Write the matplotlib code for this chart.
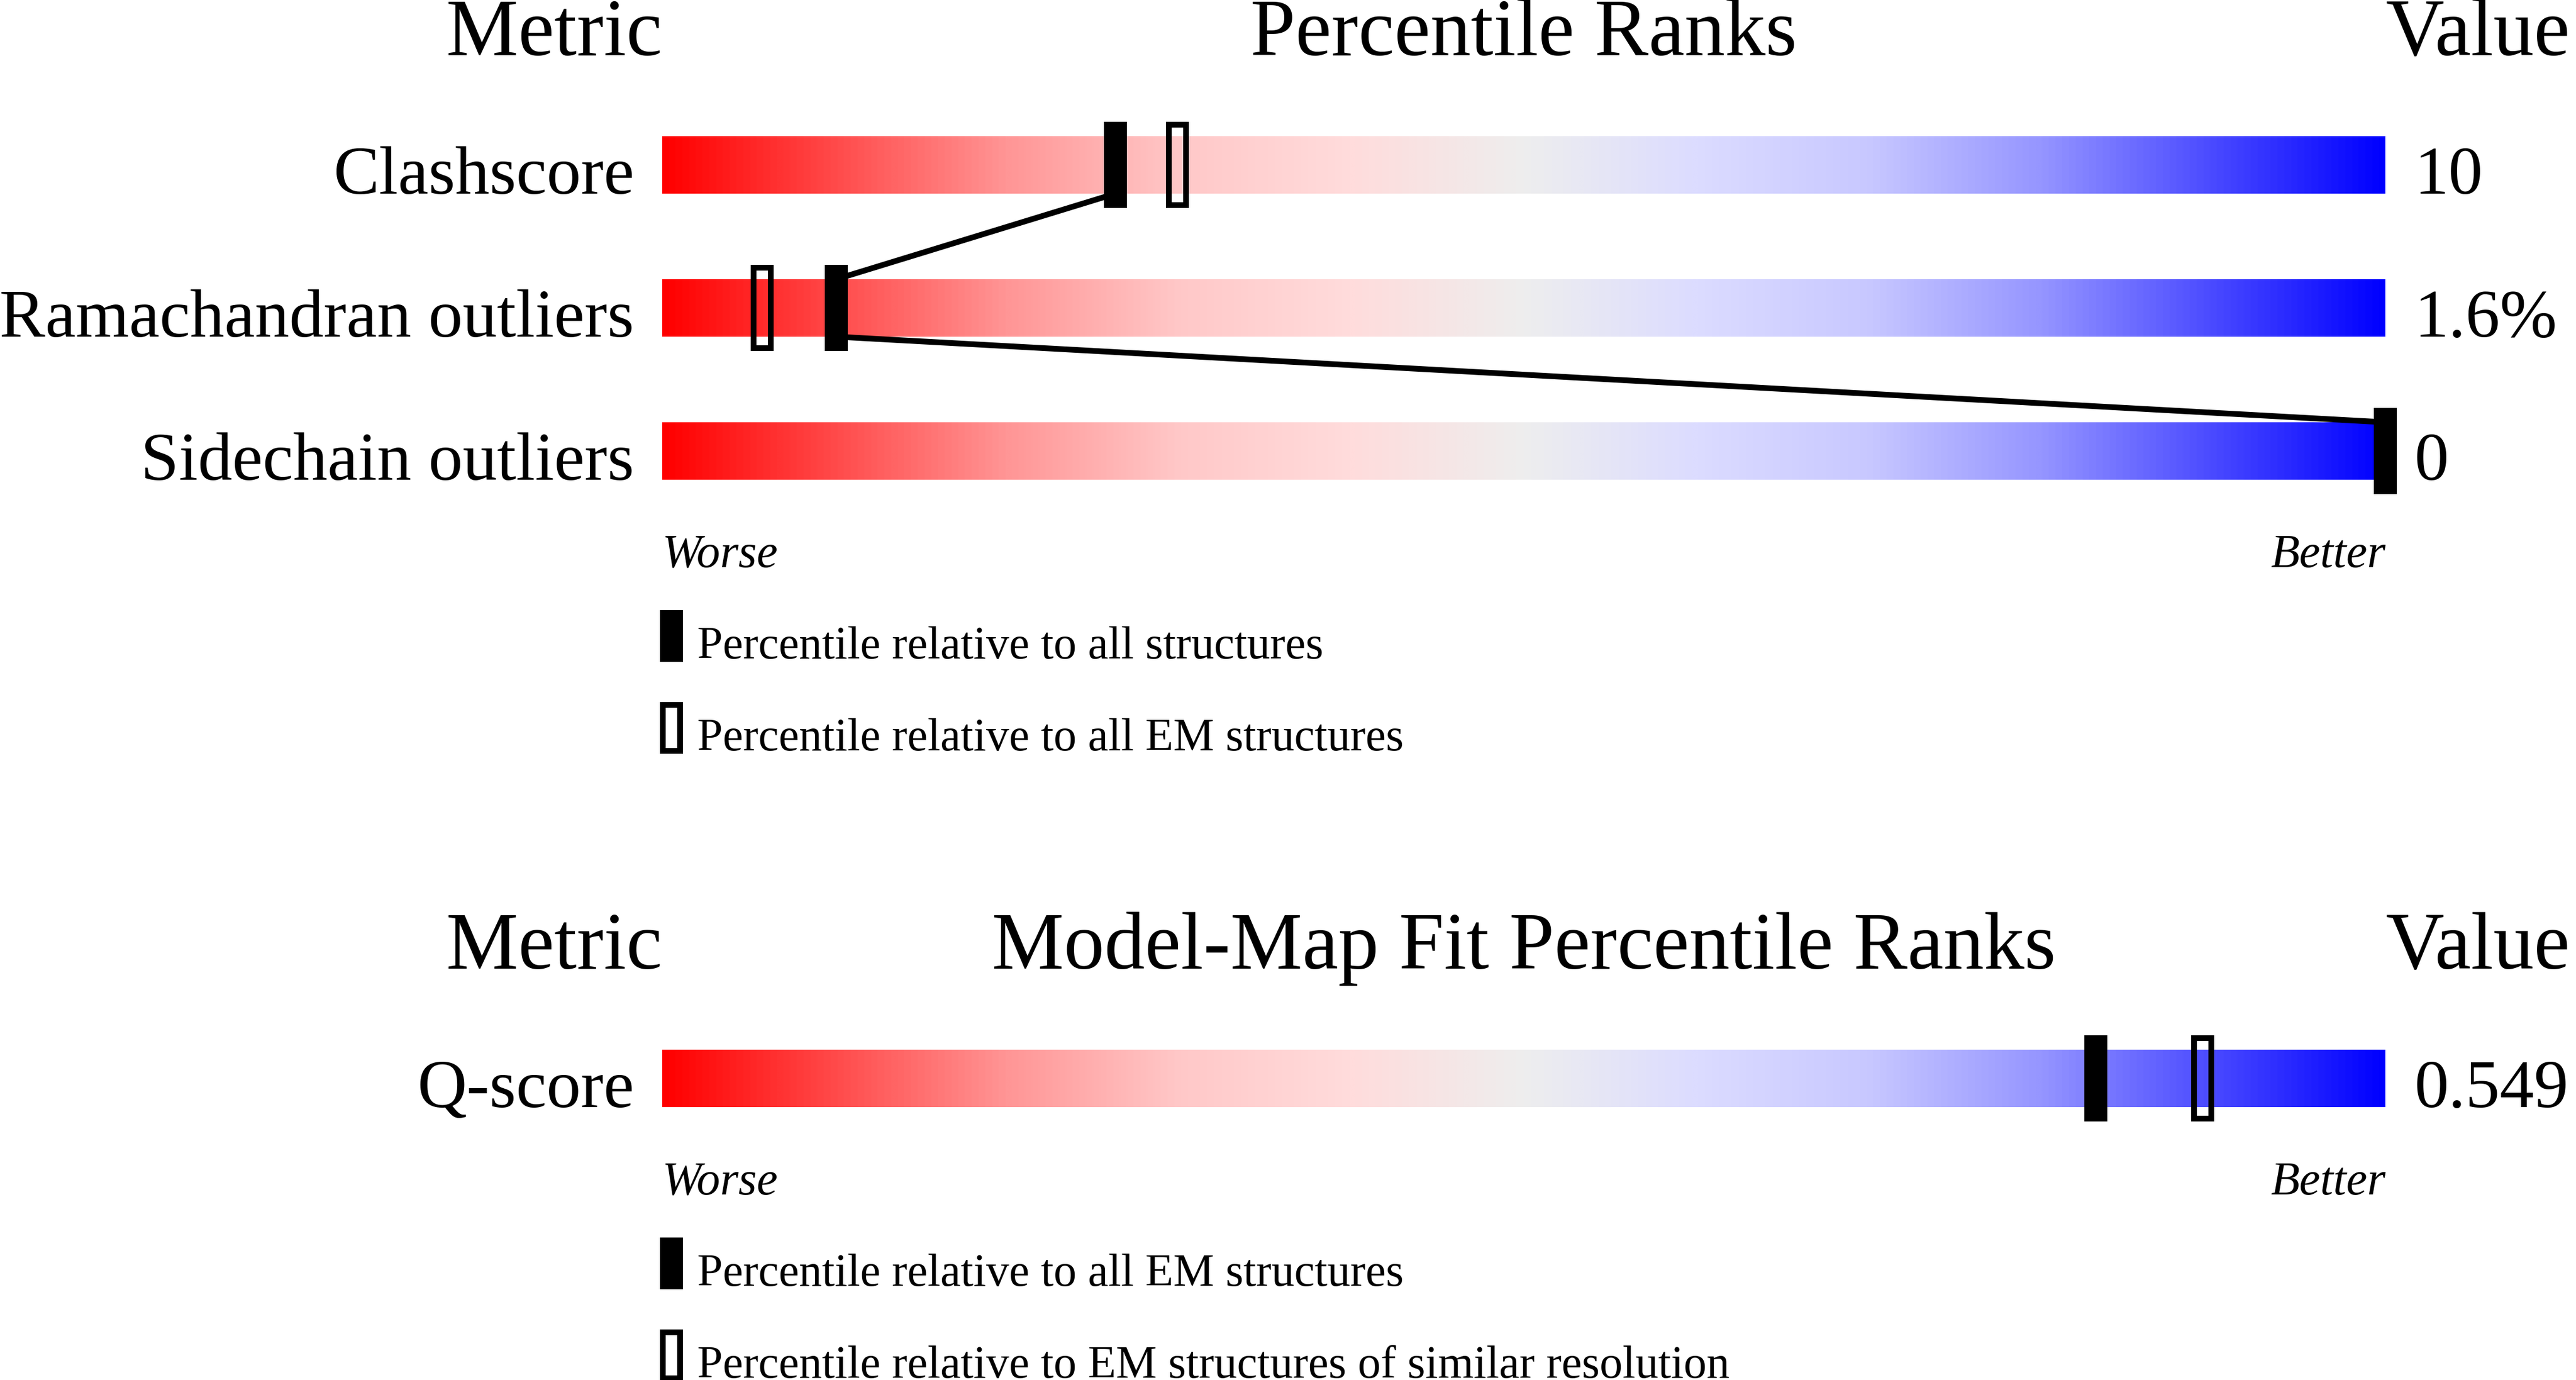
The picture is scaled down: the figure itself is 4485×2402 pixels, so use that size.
import numpy as np
import matplotlib
matplotlib.use('Agg')
import matplotlib.pyplot as plt
from matplotlib.colors import LinearSegmentedColormap
from matplotlib.patches import Rectangle

# --- data ---
geo_metrics = ['Clashscore', 'Ramachandran outliers', 'Sidechain outliers']
geo_values = ['10', '1.6%', '0']
geo_pct_all = [26.3, 10.1, 100.0]
geo_pct_em = [29.9, 5.8, 100.0]
geo_legend = ['Percentile relative to all structures',
              'Percentile relative to all EM structures']

fit_metrics = ['Q-score']
fit_values = ['0.549']
fit_pct_all = [83.2]
fit_pct_em = [89.4]
fit_legend = ['Percentile relative to all EM structures',
              'Percentile relative to EM structures of similar resolution']

W, H, DPI = 4485, 2402, 100
BAR_LEFT, PX = 1153, 30.0      # pixel of 0th percentile, pixels per percentile unit
ROW = 249                      # row pitch in pixels
BAR_H = 100
MARK_W, MARK_H = 40 / PX, 150
LW_EDGE = 10 * 72 / DPI

FONT = 'Liberation Serif'
HEAD_SIZE = 101.5
LABEL_SIZE = 86
SMALL_SIZE = 57.5
ITAL_SIZE = 59

cmap = LinearSegmentedColormap.from_list('wwpdb', [
    (0.0, (1.0, 0.0, 0.0)),
    (0.1, (1.0, 75 / 255, 75 / 255)),
    (0.2, (1.0, 150 / 255, 150 / 255)),
    (0.3, (1.0, 200 / 255, 200 / 255)),
    (0.4, (1.0, 220 / 255, 220 / 255)),
    (0.5, (238 / 255, 238 / 255, 238 / 255)),
    (0.6, (220 / 255, 220 / 255, 1.0)),
    (0.7, (200 / 255, 200 / 255, 1.0)),
    (0.8, (150 / 255, 150 / 255, 1.0)),
    (0.9, (75 / 255, 75 / 255, 1.0)),
    (1.0, (0.0, 0.0, 1.0)),
])
grad = np.linspace(0, 1, 1024).reshape(1, -1)

fig = plt.figure(figsize=(W / DPI, H / DPI), dpi=DPI)
ax = fig.add_axes([0, 0, 1, 1])
ax.set_xlim(-BAR_LEFT / PX, (W - BAR_LEFT) / PX)
ax.set_ylim(H, 0)
ax.axis('off')


def marker(x, yc, filled, h=MARK_H):
    if filled:
        r = Rectangle((x - MARK_W / 2, yc - h / 2), MARK_W, h,
                      facecolor='black', edgecolor='none', zorder=5)
    else:
        dx = 5 / PX
        r = Rectangle((x - MARK_W / 2 + dx, yc - h / 2 + 5), MARK_W - 2 * dx, h - 10,
                      fill=False, edgecolor='black', linewidth=LW_EDGE, zorder=4)
    ax.add_patch(r)


def draw_panel(y_head, title, metrics, values, pct_all, pct_em, legend, connect):
    txt = dict(family=FONT, va='baseline', color='black')
    ax.text(0, y_head, 'Metric', ha='right', fontsize=HEAD_SIZE, **txt)
    ax.text(50, y_head, title, ha='center', fontsize=HEAD_SIZE, **txt)
    ax.text(100, y_head, 'Value', ha='left', fontsize=HEAD_SIZE, **txt)

    bar_top = y_head + 141
    centers = []
    for i, (name, val) in enumerate(zip(metrics, values)):
        top = bar_top + i * ROW
        bottom = top + BAR_H
        centers.append((top, bottom))
        ax.imshow(grad, cmap=cmap, aspect='auto', extent=[0, 100, bottom, top],
                  interpolation='bilinear', zorder=1)
        ax.text(-49 / PX, bottom, name, ha='right', fontsize=LABEL_SIZE, **txt)
        ax.text(100 + 51 / PX, bottom, val, ha='left', fontsize=LABEL_SIZE, **txt)
        yc = (top + bottom) / 2
        marker(pct_em[i], yc, False)
        marker(pct_all[i], yc, True)

    if connect:
        for i in range(len(metrics) - 1):
            ax.plot([pct_all[i], pct_all[i + 1]], [centers[i][1], centers[i + 1][0]],
                    color='black', lw=7.2, solid_capstyle='butt', zorder=3)

    y_wb = centers[-1][1] + 152
    ax.text(0, y_wb, 'Worse', ha='left', fontsize=ITAL_SIZE, style='italic', **txt)
    ax.text(100, y_wb, 'Better', ha='right', fontsize=ITAL_SIZE, style='italic', **txt)

    for j, lab in enumerate(legend):
        ltop = y_wb + 75 + j * 160
        marker(0.52, ltop + 45, j == 0, h=90)
        ax.text(2.03, ltop + 84, lab, ha='left', fontsize=SMALL_SIZE, **txt)


draw_panel(96, 'Percentile Ranks', geo_metrics, geo_values,
           geo_pct_all, geo_pct_em, geo_legend, True)
draw_panel(1686, 'Model-Map Fit Percentile Ranks', fit_metrics, fit_values,
           fit_pct_all, fit_pct_em, fit_legend, False)

fig.savefig('out.png', dpi=DPI, facecolor='white')
